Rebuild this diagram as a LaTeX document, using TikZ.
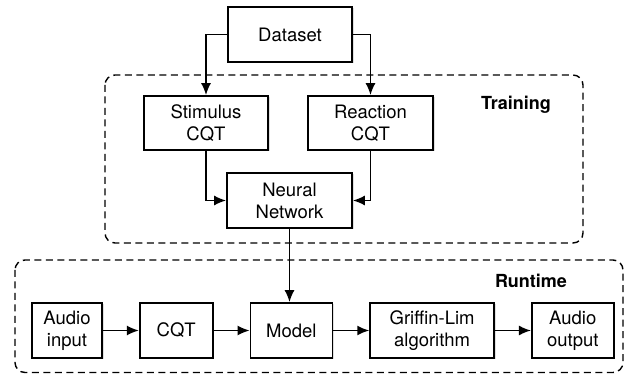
\documentclass[tikz,border=0pt]{standalone}
\usepackage{fontspec}
\setmainfont{TeX Gyre Heros}
\usetikzlibrary{arrows.meta, positioning, shadows}

\begin{document}
\begin{tikzpicture}[x=1pt, y=-1pt,
        block/.style={draw, line width=1.7pt, fill=white, align=center,
            minimum height=55pt, inner sep=2pt,
            font=\fontsize{18.5}{22}\selectfont,
            drop shadow={opacity=0.25, shadow xshift=1.5pt, shadow yshift=-1.5pt}},
        group/.style={draw, line width=1.4pt, dash pattern=on 7pt off 4.5pt, rounded corners=10pt},
        grouplabel/.style={font=\fontsize{18}{22}\selectfont\bfseries, inner sep=1pt},
        flow/.style={-{Latex[length=12pt, width=10pt]}, line width=1.6pt},
        node distance=36pt]
    \useasboundingbox (0,0) rectangle (633,374);

    %--- dashed group frames ---
    \draw[group] (105,75) rectangle (583,243);
    \draw[group] (15,260) rectangle (623,372.5);
    \node[grouplabel] (train) at (516,105) {Training};
    \node[grouplabel] (run)   at (531,281) {Runtime};

    %--- training part ---
    \node[block, minimum width=124pt] (data)  at (290,34.5)  {Dataset};
    \node[block, minimum width=124pt, minimum height=54pt] (stim)  at (206,123)   {Stimulus\\CQT};
    \node[block, minimum width=125pt, minimum height=54pt] (react) at (370.5,123) {Reaction\\CQT};
    \node[block, minimum width=125pt] (nn)    at (289.5,200.5) {Neural\\Network};

    %--- runtime chain ---
    \node[block, minimum width=70pt]  (ain)   at (67,330.5) {Audio\\input};
    \node[block, minimum width=73pt]  (cqt)   [right=of ain]   {CQT};
    \node[block, minimum width=82pt]  (model) [right=of cqt]   {Model};
    \node[block, minimum width=124pt] (gl)    [right=of model] {Griffin-Lim\\algorithm};
    \node[block, minimum width=82pt]  (aout)  [right=of gl]    {Audio\\output};

    %--- connectors ---
    \draw[flow] (data.west) -| (stim.north);
    \draw[flow] (data.east) -| (react.north);
    \draw[flow] (stim.south) |- (nn.west);
    \draw[flow] (react.south) |- (nn.east);
    \draw[flow] (nn.south) -- (nn.south |- model.north);
    \draw[flow] (ain) -- (cqt);
    \draw[flow] (cqt) -- (model);
    \draw[flow] (model) -- (gl);
    \draw[flow] (gl) -- (aout);
\end{tikzpicture}
\end{document}
